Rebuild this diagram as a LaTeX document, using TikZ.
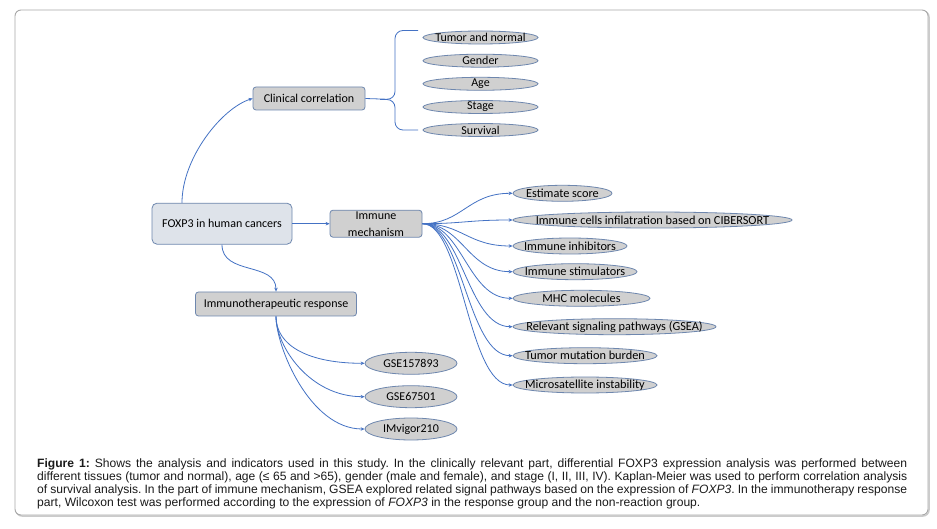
\documentclass[tikz,border=0pt]{standalone}
\usepackage{fontspec}
\setmainfont{Liberation Sans}
\newfontfamily\calib{Carlito}
\usetikzlibrary{shapes.geometric,arrows.meta}
\definecolor{lineblue}{HTML}{4472C4}
\definecolor{nodegray}{HTML}{D0D0D0}
\definecolor{nodeborder}{HTML}{6E87AE}
\definecolor{rootfill}{HTML}{DEE3EA}
\definecolor{framegray}{HTML}{A8A8A8}
\definecolor{captext}{HTML}{1A1A1A}
\frenchspacing
\begin{document}
\begin{tikzpicture}[x={(1pt,0)}, y={(0,-1pt)},
  conn/.style={draw=lineblue, line width=0.8pt, -{Stealth[length=4pt,width=3.5pt]}},
  brace/.style={draw=lineblue, line width=0.8pt, rounded corners=8pt},
  boxnode/.style={draw=nodeborder, fill=nodegray, rounded corners=3pt, line width=0.8pt, inner sep=0pt, font=\calib\fontsize{12}{14}\selectfont},
  ovalnode/.style={ellipse, draw=nodeborder, fill=nodegray, line width=0.8pt, inner sep=0pt},
  ovaltext/.style={inner sep=0pt, font=\calib\fontsize{12.3}{13}\selectfont},
  clintext/.style={inner sep=0pt, font=\calib\fontsize{12}{13}\selectfont}]

\useasboundingbox (0,0) rectangle (937,529);
\draw[framegray!60, line width=1.5pt, rounded corners=6pt] (16,11) rectangle (929,516);
\draw[framegray, line width=0.9pt, rounded corners=6pt, fill=white] (15,10) rectangle (928,515);

% main nodes
\node[boxnode, fill=rootfill, rounded corners=5pt, minimum width=140pt, minimum height=41pt] (fox) at (222,223.7) {FOXP3 in human cancers};
\node[boxnode, minimum width=112pt, minimum height=23pt] (clin) at (309,98.5) {Clinical correlation};
\node[boxnode, minimum width=92pt, minimum height=27pt, align=center, font=\calib\fontsize{12}{17}\selectfont] (imm) at (376,223.7) {Immune\\mechanism};
\node[boxnode, minimum width=161pt, minimum height=24pt] (imr) at (276,304) {Immunotherapeutic response};

% clinical ellipses
\foreach \n/\y/\t in {tn/37.5/Tumor and normal, ge/60.7/Gender, ag/83.8/Age, st/107/Stage, sv/130/Survival}{
  \node[ovalnode, minimum width=115pt, minimum height=13pt] (\n) at (480.5,\y) {};
  \node[clintext] (\n t) at (\n) {\t};
}

% immune ellipses
\foreach \n/\cx/\w/\y/\t in {
  es/562.5/99/193.3/Estimate score,
  ic/652.5/279/220/Immune cells infilatration based on CIBERSORT,
  ii/570/114/246/Immune inhibitors,
  is/575/124/271.7/Immune stimulators,
  mh/581.5/137/298.3/MHC molecules,
  rs/614.5/203/326.7/Relevant signaling pathways (GSEA),
  tm/585/144/355.7/Tumor mutation burden,
  ms/585/144/385/Microsatellite instability}{
  \node[ovalnode, minimum width=\w pt, minimum height=16pt] (\n) at (\cx,\y) {};
  \node[ovaltext] (\n t) at (\n) {\t};
}

% response ellipses
\foreach \n/\y/\t in {g1/363.3/GSE157893, g2/396.7/GSE67501, g3/429/IMvigor210}{
  \node[ovalnode, minimum width=92pt, minimum height=22pt] (\n) at (411,\y) {};
  \node[ovaltext, font=\calib\fontsize{12}{13}\selectfont] (\n t) at (\n) {\t};
}

% connectors from root
\draw[conn] ([xshift=-40pt]fox.north) .. controls +(0,-45) and (222,108) .. (clin.west);
\draw[conn] (fox.east) -- (imm.west);
\draw[conn] (fox.south) .. controls +(0,31) and +(0,-30) .. (imr.north);

% brace
\coordinate (btop) at (418,30.5);
\coordinate (bbot) at (418,130);
\draw[brace] (clin.east) -- (395,99.5) -- (395,30.5) -- (btop);
\draw[brace] (380,99.5) -- (395,99.5) -- (395,130) -- (bbot);

% immune fan
\foreach \n in {es,ic,ii,is,mh,rs,tm,ms}{
  \draw[conn] (imm.east) .. controls +(40,0) and +(-45,0) .. (\n.west);
}

% response fan
\foreach \n in {g1,g2,g3}{
  \draw[conn] (imr.south) .. controls +(0,30) and +(-55,0) .. (\n.west);
}

% caption
\node[anchor=north west, inner sep=0pt, align=left, text=captext, font=\fontsize{12.1}{13}\selectfont] (cap) at (37,458.5) {%
\makebox[870pt][s]{\textbf{Figure 1:} Shows the analysis and indicators used in this study. In the clinically relevant part, differential FOXP3 expression analysis was performed between}\\
\makebox[870pt][s]{different tissues (tumor and normal), age (≤ 65 and >65), gender (male and female), and stage (I, II, III, IV). Kaplan-Meier was used to perform correlation analysis}\\
\makebox[870pt][s]{of survival analysis. In the part of immune mechanism, GSEA explored related signal pathways based on the expression of \textit{FOXP3}. In the immunotherapy response}\\
\makebox[870pt][l]{part, Wilcoxon test was performed according to the expression of \textit{FOXP3} in the response group and the non-reaction group.}};
\end{tikzpicture}
\end{document}
